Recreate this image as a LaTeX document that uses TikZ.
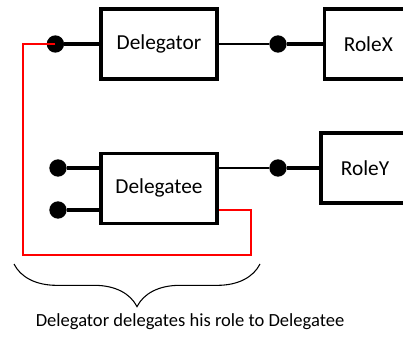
\documentclass[tikz,border=0pt]{standalone}
\usepackage{fontspec}
\setmainfont{Carlito}
\usepackage{tikz}
\usetikzlibrary{positioning, decorations.pathreplacing}

\tikzset{
  box/.style={draw, line width=2.5pt, minimum width=87pt, minimum height=52.5pt, inner sep=0pt, font=\fontsize{16}{19}\selectfont},
  role/.style={box, minimum width=66pt},
  pin/.style={circle, fill=black, minimum size=13pt, inner sep=0pt},
  stub/.style={line width=2.5pt},
  wire/.style={line width=0.8pt},
  deleg/.style={red, line width=1pt}
}

\begin{document}
\begin{tikzpicture}[x=0.75pt, y=-0.75pt]
  \useasboundingbox (0,0) rectangle (403,338);

  % Nodes
	\node[box] (Dor) at (159,44) {Delegator};
	\node[box, below=53.25pt of Dor] (Dee) {Delegatee};
	\node[role, right=78pt of Dor] (RX) {RoleX};
	\node[role] (RY) at (365,168) {RoleY};

	\node[pin, left=26.25pt of Dor] (pA) {};
	\node[pin] (pB) at (58,168) {};
	\node[pin] (pC) at (58,210) {};
	\node[pin] (pX) at (278,44) {};
	\node[pin] (pY) at (278,168) {};

	\coordinate (cL) at (23,255);
	\coordinate (cR) at (251,255);

  % Links
	\draw[stub] (pA) -- (Dor);
	\draw[wire] (Dor) -- (pX);
	\draw[stub] (pX) -- (RX);
	\draw[stub] (pB) -- (pB -| Dee.west);
	\draw[stub] (pC) -- (pC -| Dee.west);
	\draw[wire] (pY -| Dee.east) -- (pY);
	\draw[stub] (pY) -- (RY);

  % Delegation (red) and brace
	\draw[deleg] (pA.center) -| (cL) -- (cR) |- (pC -| Dee.east);
	\draw[line width=0.8pt, decorate, decoration={brace, mirror, amplitude=32pt}] (14,264) -- (260,264);
	\node[font=\fontsize{13.9}{16}\selectfont] (cap) at (190,322) {Delegator delegates his role to Delegatee};
\end{tikzpicture}
\end{document}
